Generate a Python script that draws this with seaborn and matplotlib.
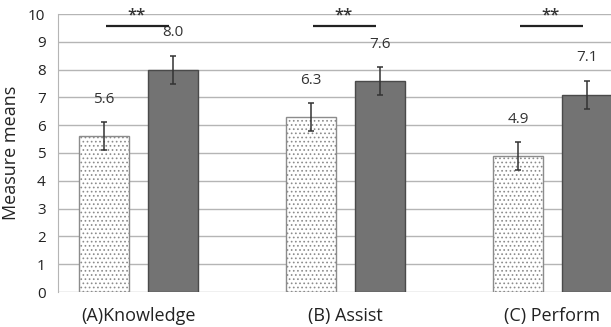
import matplotlib
matplotlib.use("Agg")
import matplotlib.pyplot as plt
import seaborn as sns
import pandas as pd

categories = ["(A)Knowledge", "(B) Assist", "(C) Perform"]
groups = ["Group 1", "Group 2"]
means_g1 = [5.6, 6.3, 4.9]
means_g2 = [8.0, 7.6, 7.1]
err_g1 = [0.5, 0.5, 0.5]
err_g2 = [0.5, 0.5, 0.5]
labels_g1 = ["5.6", "6.3", "4.9"]
labels_g2 = ["8.0", "7.6", "7.1"]
sig = ["**", "**", "**"]

df = pd.DataFrame({
    "category": categories * 2,
    "group": [groups[0]] * 3 + [groups[1]] * 3,
    "mean": means_g1 + means_g2,
})

sns.set_style("white")
plt.rcParams["font.family"] = ["Open Sans", "DejaVu Sans"]
plt.rcParams["hatch.linewidth"] = 0.7

fig = plt.figure(figsize=(6.11, 3.27), dpi=100)
ax = fig.add_axes([58 / 611, 1 - 292 / 327, 1 - 58 / 611, (292 - 14) / 327])

sns.barplot(data=df, x="category", y="mean", hue="group", order=categories,
            hue_order=groups, palette=["white", "#737373"], errorbar=None,
            width=0.667, gap=0.275, saturation=1, legend=False, ax=ax,
            zorder=2)

for i, p in enumerate(ax.patches[:6]):
    p.set_edgecolor("#4a4a4a")
    p.set_linewidth(1.0)
    if i < 3:
        p.set_hatch("....")
        if hasattr(p, "set_hatchcolor"):
            p.set_edgecolor("#666666")
            p.set_hatchcolor("#8c8c8c")
        else:
            p.set_edgecolor("#8c8c8c")

# centres of bars
offs = 69 / 207 / 2
for k in range(3):
    x1, x2 = k - offs, k + offs
    ax.errorbar([x1, x2], [means_g1[k], means_g2[k]], yerr=[err_g1[k], err_g2[k]],
                fmt="none", ecolor="#333333", elinewidth=1.1, capsize=2.5,
                capthick=1.1, zorder=3)
    ax.text(x1, means_g1[k] + err_g1[k] + 0.55, labels_g1[k], ha="center",
            va="bottom", fontsize=11, color="#333333")
    ax.text(x2, means_g2[k] + err_g2[k] + 0.55, labels_g2[k], ha="center",
            va="bottom", fontsize=11, color="#333333")
    ax.plot([x1 + 0.01, x2 - 0.02], [9.58, 9.58], color="#222222", lw=1.6,
            solid_capstyle="butt", zorder=3)
    ax.text((x1 + x2) / 2 - 0.01, 9.93, sig[k], ha="center", va="center",
            fontsize=12, fontweight="semibold", color="#333333")

ax.set_xlim(-80.5 / 207, (611 - 138.5) / 207)
ax.set_ylim(0, 10)
ax.set_yticks(range(0, 11))
ax.yaxis.grid(True, color="#b5b5b5", lw=1.0)
ax.set_axisbelow(True)
for s in ["top", "right", "bottom"]:
    ax.spines[s].set_visible(False)
ax.spines["left"].set_color("#b5b5b5")
ax.tick_params(axis="y", length=5, color="#b5b5b5", labelsize=11,
               labelcolor="#222222", pad=4)
ax.tick_params(axis="x", length=0, labelsize=13, labelcolor="#222222", pad=11)
ax.set_xlabel("")
ax.set_ylabel("Measure means", fontsize=13, color="#222222", labelpad=6)

fig.savefig("out.png", dpi=100)
